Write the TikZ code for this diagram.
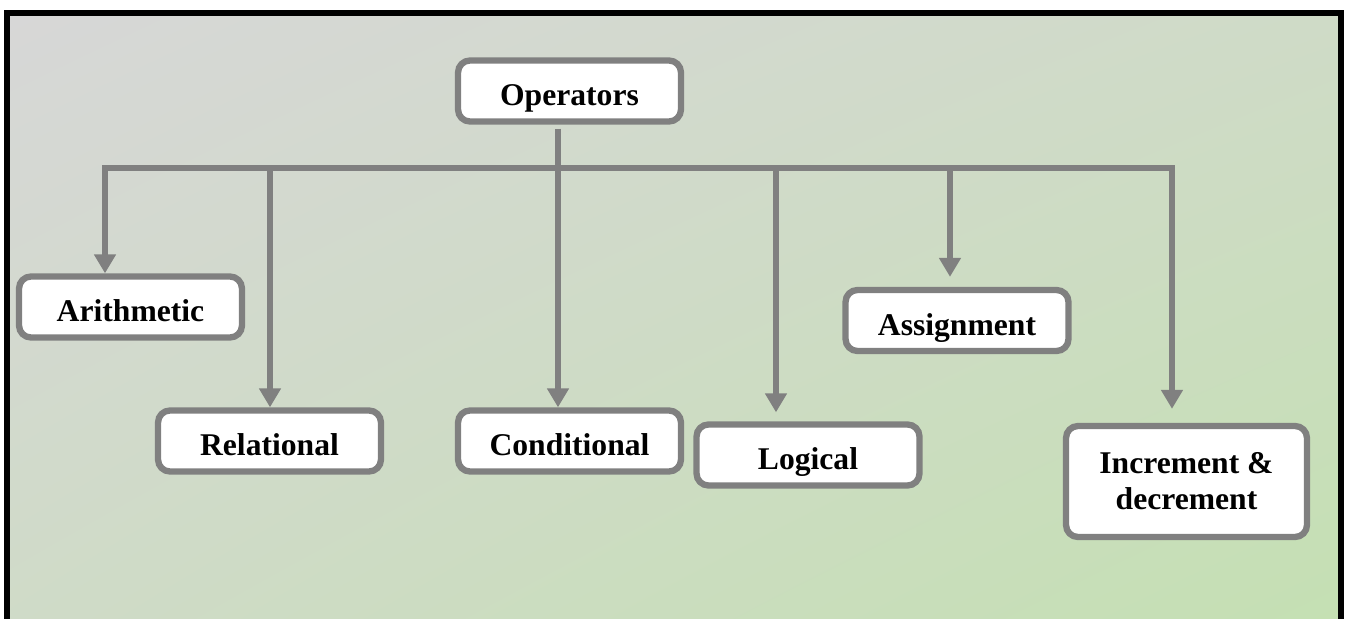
\documentclass[tikz,border=0pt]{standalone}
\usepackage{fontspec}
\setmainfont{Liberation Serif}
\usetikzlibrary{arrows.meta,shadings}
\definecolor{linegray}{RGB}{128,128,128}
\definecolor{bgtl}{RGB}{215,215,215}
\definecolor{bgbr}{RGB}{196,224,178}
\definecolor{bgmid}{RGB}{207,219,199}
\tikzset{
  opbox/.style={draw=linegray,line width=3.6pt,fill=white,rounded corners=0.24cm,
    minimum width=4.46cm,minimum height=1.22cm,inner sep=2pt,align=center,
    font=\fontsize{18}{20.5}\selectfont\bfseries},
  lowtext/.style={text height=0.6cm,text depth=0.02cm},
  conn/.style={draw=linegray,line width=3.2pt},
  arr/.style={conn,-{Triangle[width=0.42cm,length=0.38cm]}}
}
\begin{document}
\begin{tikzpicture}[x=0.02cm,y=-0.02cm]
\useasboundingbox (0,0) rectangle (1347,619);
\clip (0,0) rectangle (1347,619);
\fill[white] (0,0) rectangle (1347,619);
\shade[upper left=bgtl,lower right=bgbr,upper right=bgmid,lower left=bgmid] (7,13) rectangle (1341,650);
\draw[line width=0.12cm] (7,13) rectangle (1341,650);

\node[opbox,lowtext] (ops) at (569.5,91) {Operators};
\node[opbox,lowtext] (arith) at (130.5,307) {Arithmetic};
\node[opbox,lowtext] (rel) at (269.5,441) {Relational};
\node[opbox,lowtext] (cond) at (569.5,441) {Conditional};
\node[opbox,lowtext] (logic) at (808,455) {Logical};
\node[opbox,lowtext] (assign) at (957,320.5) {Assignment};
\node[opbox,minimum width=4.82cm,minimum height=2.22cm] (incdec) at (1186.5,481.5) {Increment \&\\decrement};

\coordinate (b1) at (105,168);
\coordinate (b2) at (270,168);
\coordinate (b3) at (558,168);
\coordinate (b4) at (776,168);
\coordinate (b5) at (950,168);
\coordinate (b6) at (1172,168);

\draw[conn,shorten >=0.28cm,{Triangle[width=0.42cm,length=0.38cm]}-{Triangle[width=0.42cm,length=0.38cm]}] (b1 |- arith.north) -- (b1) -- (b6) -- (b6 |- incdec.north);
\draw[arr,shorten <=0.08cm] (b3 |- ops.south) -- (b3 |- cond.north);
\draw[arr] (b2) -- (b2 |- rel.north);
\draw[arr,shorten >=0.18cm] (b4) -- (b4 |- logic.north);
\draw[arr,shorten >=0.2cm] (b5) -- (b5 |- assign.north);
\end{tikzpicture}
\end{document}
